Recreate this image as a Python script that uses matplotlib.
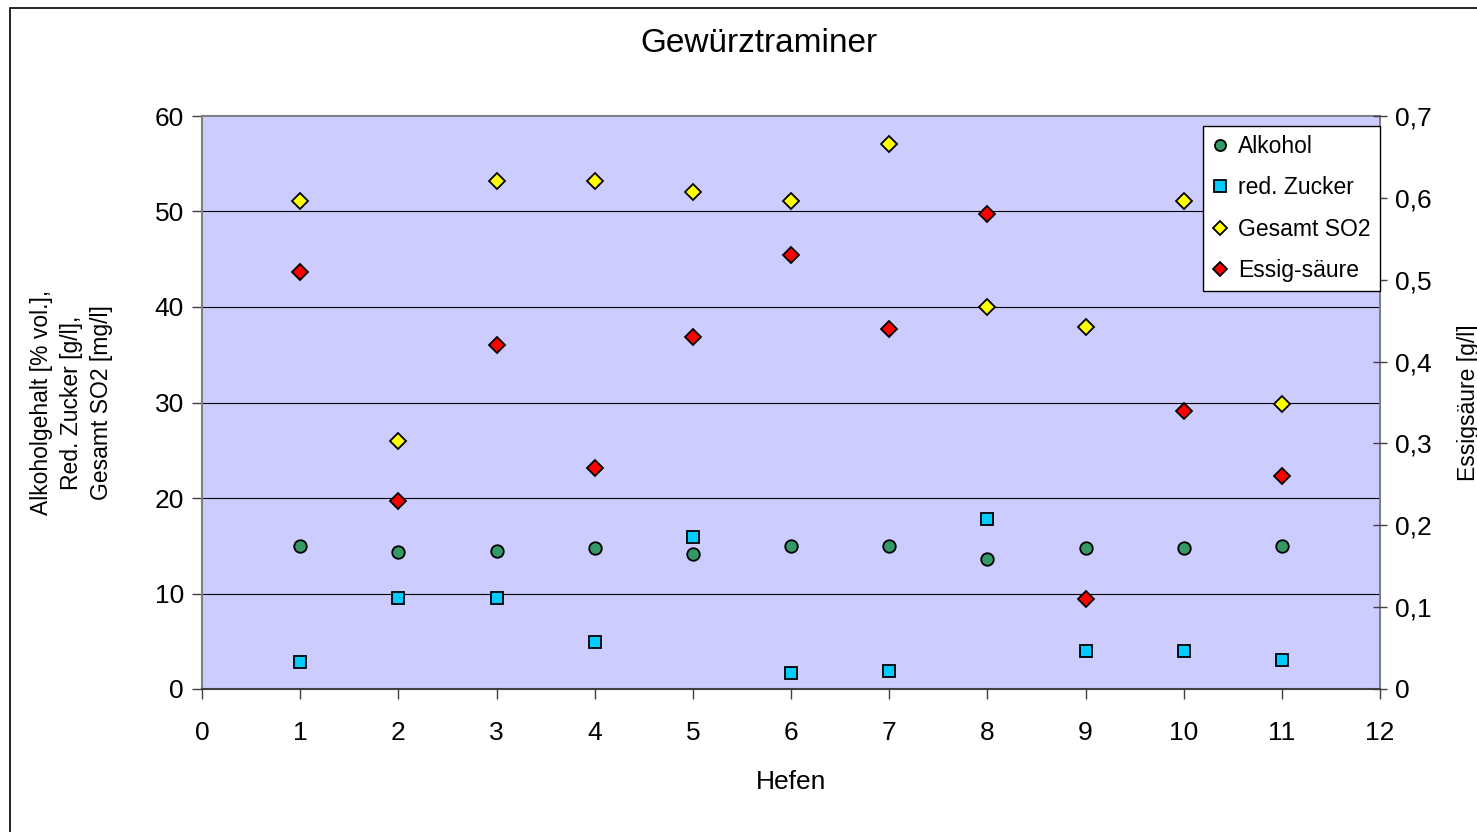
import matplotlib.pyplot as plt
from matplotlib.patches import Rectangle
from matplotlib.lines import Line2D

plt.rcParams['font.family'] = ['Liberation Sans', 'DejaVu Sans']

# Daten
hefen = [1, 2, 3, 4, 5, 6, 7, 8, 9, 10, 11]
alkohol = [15.0, 14.3, 14.5, 14.8, 14.1, 15.0, 15.0, 13.6, 14.8, 14.8, 15.0]
zucker = [2.8, 9.5, 9.5, 4.9, 15.9, 1.7, 1.9, 17.8, 4.0, 4.0, 3.0]
so2 = [51.1, 26.0, 53.2, 53.2, 52.0, 51.1, 57.1, 40.0, 37.9, 51.1, 29.8]
essig = [0.51, 0.23, 0.42, 0.27, 0.43, 0.53, 0.44, 0.58, 0.11, 0.34, 0.26]

left_ticks = [0, 10, 20, 30, 40, 50, 60]
right_ticks = [0, 0.1, 0.2, 0.3, 0.4, 0.5, 0.6, 0.7]
right_labels = ['0', '0,1', '0,2', '0,3', '0,4', '0,5', '0,6', '0,7']

fig = plt.figure(figsize=(14.77, 8.32), dpi=100)

# aeusserer Rahmen (rechts/unten abgeschnitten)
fig.patches.append(Rectangle((10/1477, -0.1), 1.2, 1 - 8/832 + 0.1,
                             transform=fig.transFigure, fill=False,
                             edgecolor='black', linewidth=1.2))

ax = fig.add_axes([202/1477, 1 - 689/832, 1178/1477, 573/832])
ax.set_facecolor('#ccccff')
ax.set_xlim(0, 12)
ax.set_ylim(0, 60)
ax.set_xticks(range(13))
ax.set_yticks(left_ticks)
for v in left_ticks[1:-1]:
    ax.axhline(v, color='black', linewidth=0.8, zorder=1)
for s in ax.spines.values():
    s.set_color('#808080')
    s.set_linewidth(1.5)
ax.spines['bottom'].set_color('#404040')
ax.tick_params(axis='both', labelsize=19, direction='out', length=7,
               width=1, color='#404040', pad=6)
ax.tick_params(axis='x', pad=16)
ax.set_xlabel('Hefen', fontsize=19, labelpad=18)
ax.set_ylabel('Alkoholgehalt [% vol.],\nRed. Zucker [g/l],\nGesamt SO2 [mg/l]',
              fontsize=16.5, labelpad=30, linespacing=1.38)

ax2 = ax.twinx()
ax2.set_ylim(0, 0.7)
ax2.set_yticks(right_ticks)
ax2.set_yticklabels(right_labels)
ax2.tick_params(axis='y', labelsize=19, direction='inout', length=10,
                width=1, color='#404040', pad=6)
for s in ax2.spines.values():
    s.set_visible(False)
ax2.set_ylabel('Essigsäure [g/l]', fontsize=16.5, labelpad=18)

mk = dict(linestyle='none', markeredgecolor='black', markeredgewidth=1.3, zorder=3)
ax.plot(hefen, alkohol, marker='o', markersize=9, markerfacecolor='#339966', **mk)
ax.plot(hefen, zucker, marker='s', markersize=9, markerfacecolor='#00ccff', **mk)
ax.plot(hefen, so2, marker='D', markersize=8, markerfacecolor='#ffff00', **mk)
ax2.plot(hefen, essig, marker='D', markersize=8, markerfacecolor='#ff0000', **mk)

handles = [
    Line2D([], [], marker='o', markersize=8, markerfacecolor='#339966', **mk),
    Line2D([], [], marker='s', markersize=8, markerfacecolor='#00ccff', **mk),
    Line2D([], [], marker='D', markersize=7, markerfacecolor='#ffff00', **mk),
    Line2D([], [], marker='D', markersize=7, markerfacecolor='#ff0000', **mk),
]
leg = ax2.legend(handles, ['Alkohol', 'red. Zucker', 'Gesamt SO2', 'Essig-säure'],
                 loc='upper right', bbox_to_anchor=(1.0, 0.983), fontsize=16.5,
                 frameon=True, fancybox=False, framealpha=1, edgecolor='black',
                 borderpad=0.4, labelspacing=0.8, handlelength=0.7,
                 handletextpad=0.45, borderaxespad=0)
leg.get_frame().set_linewidth(1)

fig.text(759/1477, 1 - 43/832, 'Gewürztraminer', fontsize=24,
         ha='center', va='center')

fig.savefig('out.png', dpi=100)
